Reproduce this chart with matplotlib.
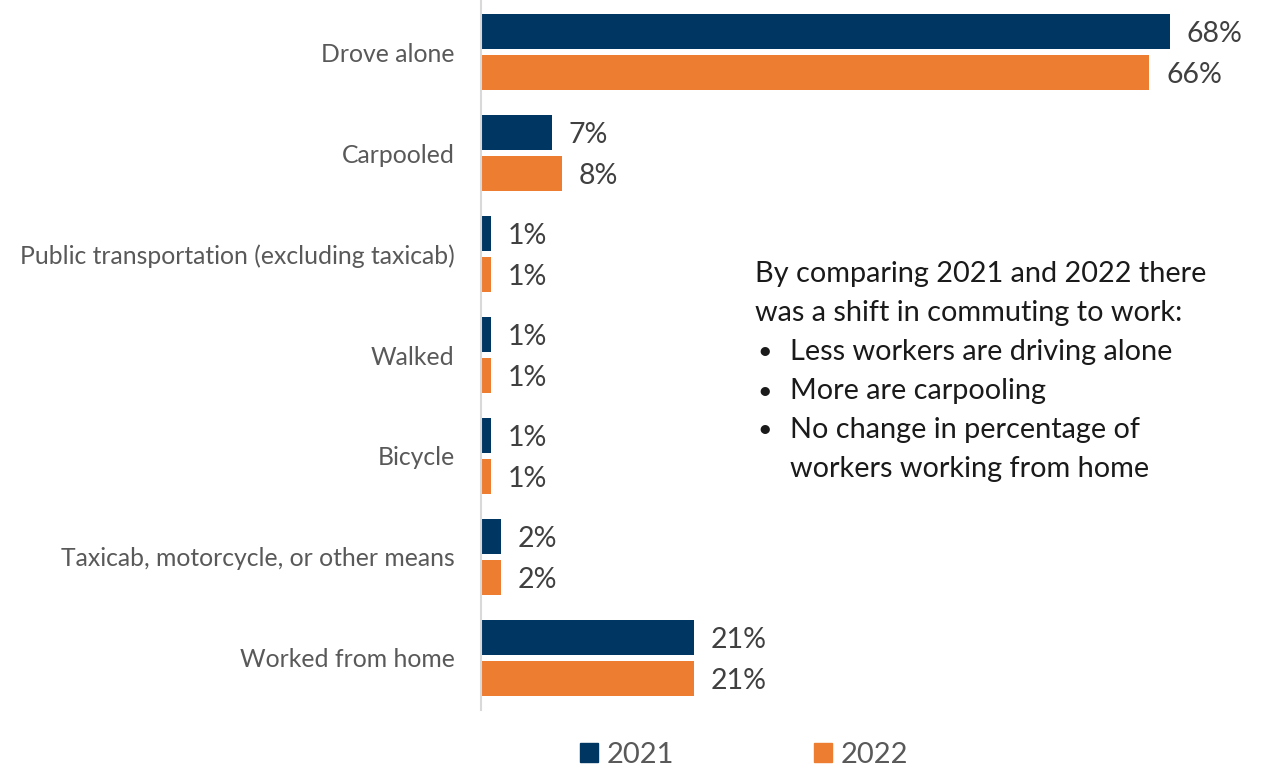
'''commute to work mode share, 2021 vs 2022
'''
import matplotlib.pyplot as plt
from matplotlib.patches import Patch

plt.rcParams['font.family'] = ['Lato', 'DejaVu Sans']

modes = ['Drove alone', 'Carpooled', 'Public transportation (excluding taxicab)',
         'Walked', 'Bicycle', 'Taxicab, motorcycle, or other means', 'Worked from home']
share_2021 = [68, 7, 1, 1, 1, 2, 21]
share_2022 = [66, 8, 1, 1, 1, 2, 21]
years = ['2021', '2022']

note_head = ['By comparing 2021 and 2022 there', 'was a shift in commuting to work:']
note_bullets = ['Less workers are driving alone', 'More are carpooling',
                'No change in percentage of\nworkers working from home']

NAVY = '#003762'
ORANGE = '#ED7D31'

W, H = 1270, 768
fig = plt.figure(figsize=(W / 100, H / 100), dpi=100)
ax = fig.add_axes([481 / W, 58 / H, 789 / W, 710 / H])

y = list(range(len(modes)))
off = 0.203
bh = 0.337
ax.barh([i - off for i in y], share_2021, height=bh, color=NAVY)
ax.barh([i + off for i in y], share_2022, height=bh, color=ORANGE)

for i, (a, b) in enumerate(zip(share_2021, share_2022)):
    ax.annotate('%d%%' % a, (a, i - off), xytext=(12, -2), textcoords='offset points',
                va='center', ha='left', fontsize=20.5, color='#404040')
    ax.annotate('%d%%' % b, (b, i + off), xytext=(12, -2), textcoords='offset points',
                va='center', ha='left', fontsize=20.5, color='#404040')

ax.set_xlim(0, 77.9)
ax.set_ylim(len(modes) - 0.485, -0.515)
ax.set_yticks(y)
ax.set_yticklabels(modes, fontsize=17.8, color='#595959')
ax.tick_params(axis='y', length=0, pad=19)
ax.set_xticks([])
for s in ['top', 'right', 'bottom']:
    ax.spines[s].set_visible(False)
ax.spines['left'].set_color('#d9d9d9')
ax.spines['left'].set_linewidth(1.5)

# side note with bullets
x0, xb, xt = 755 / W, 757 / W, 790 / W
line_h = 39
ytop = 274
for k, line in enumerate(note_head):
    fig.text(x0, 1 - (ytop + k * line_h) / H, line, fontsize=20.8, color='#1a1a1a',
             va='center', ha='left')
row = len(note_head)
for item in note_bullets:
    fig.text(xb, 1 - (ytop + row * line_h) / H, '\u2022', fontsize=18, color='#1a1a1a',
             va='center', ha='left')
    for part in item.split('\n'):
        fig.text(xt, 1 - (ytop + row * line_h) / H, part, fontsize=20.8, color='#1a1a1a',
                 va='center', ha='left')
        row += 1

handles = [Patch(color=NAVY), Patch(color=ORANGE)]
fig.legend(handles, years, loc='center', bbox_to_anchor=(744 / W, 1 - 755 / H), ncol=2,
           frameon=False, fontsize=21, handlelength=0.62, handleheight=0.62,
           handletextpad=0.3, columnspacing=4.8, labelcolor='#595959')

fig.savefig('out.png', dpi=100)
